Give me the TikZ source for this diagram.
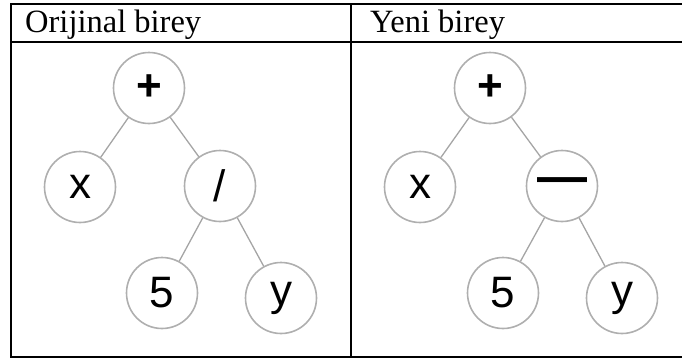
\documentclass[tikz,border=0pt]{standalone}
\usepackage{fontspec}
\setmainfont{Liberation Serif}
\newfontfamily\treefont{Liberation Sans}
\begin{document}
\begin{tikzpicture}[x=1pt,y=-1pt,
  rule/.style={line width=2pt,black},
  head/.style={anchor=base west,inner sep=0pt,font=\fontsize{32.5}{32.5}\selectfont},
  tnode/.style={circle,draw={rgb,255:red,175;green,175;blue,175},line width=1.6pt,
    minimum size=71pt,inner sep=0pt,font=\treefont\fontsize{44}{44}\selectfont},
  tedge/.style={draw={rgb,255:red,165;green,165;blue,165},line width=1.3pt}]
  \useasboundingbox (0,0) rectangle (682,360);
  % table frame
  \coordinate (tl) at (11,4);
  \coordinate (tr) at (682,4);
  \coordinate (hl) at (11,42);
  \coordinate (hr) at (682,42);
  \coordinate (bl) at (11,357);
  \coordinate (br) at (682,357);
  \coordinate (mt) at (351,4);
  \coordinate (mb) at (351,357);
  \draw[rule] (tl) -- (tr);
  \draw[rule] (hl) -- (hr);
  \draw[rule] (bl) -- (br);
  \draw[rule] ([yshift=1pt]tl) -- ([yshift=-1pt]bl);
  \draw[rule] (mt) -- (mb);
  % column headers
  \node[head] (h1) at (25,32) {Orijinal birey};
  \node[head] (h2) at (370,32) {Yeni birey};
  % original tree
  \node[tnode] (a0) at (149,88) {\bfseries +};
  \node[tnode] (a1) at (80,187) {x};
  \node[tnode] (a2) at (220,186) {/};
  \node[tnode] (a3) at (162,293) {5};
  \node[tnode] (a4) at (281,298) {y};
  \draw[tedge] (a0) -- (a1);
  \draw[tedge] (a0) -- (a2);
  \draw[tedge] (a2) -- (a3);
  \draw[tedge] (a2) -- (a4);
  % new tree
  \node[tnode] (b0) at (490,88) {\bfseries +};
  \node[tnode] (b1) at (420,187) {x};
  \node[tnode] (b2) at (562,186) {\fontsize{50}{50}\selectfont\bfseries —};
  \node[tnode] (b3) at (503,293) {5};
  \node[tnode] (b4) at (622,298) {y};
  \draw[tedge] (b0) -- (b1);
  \draw[tedge] (b0) -- (b2);
  \draw[tedge] (b2) -- (b3);
  \draw[tedge] (b2) -- (b4);
\end{tikzpicture}
\end{document}
